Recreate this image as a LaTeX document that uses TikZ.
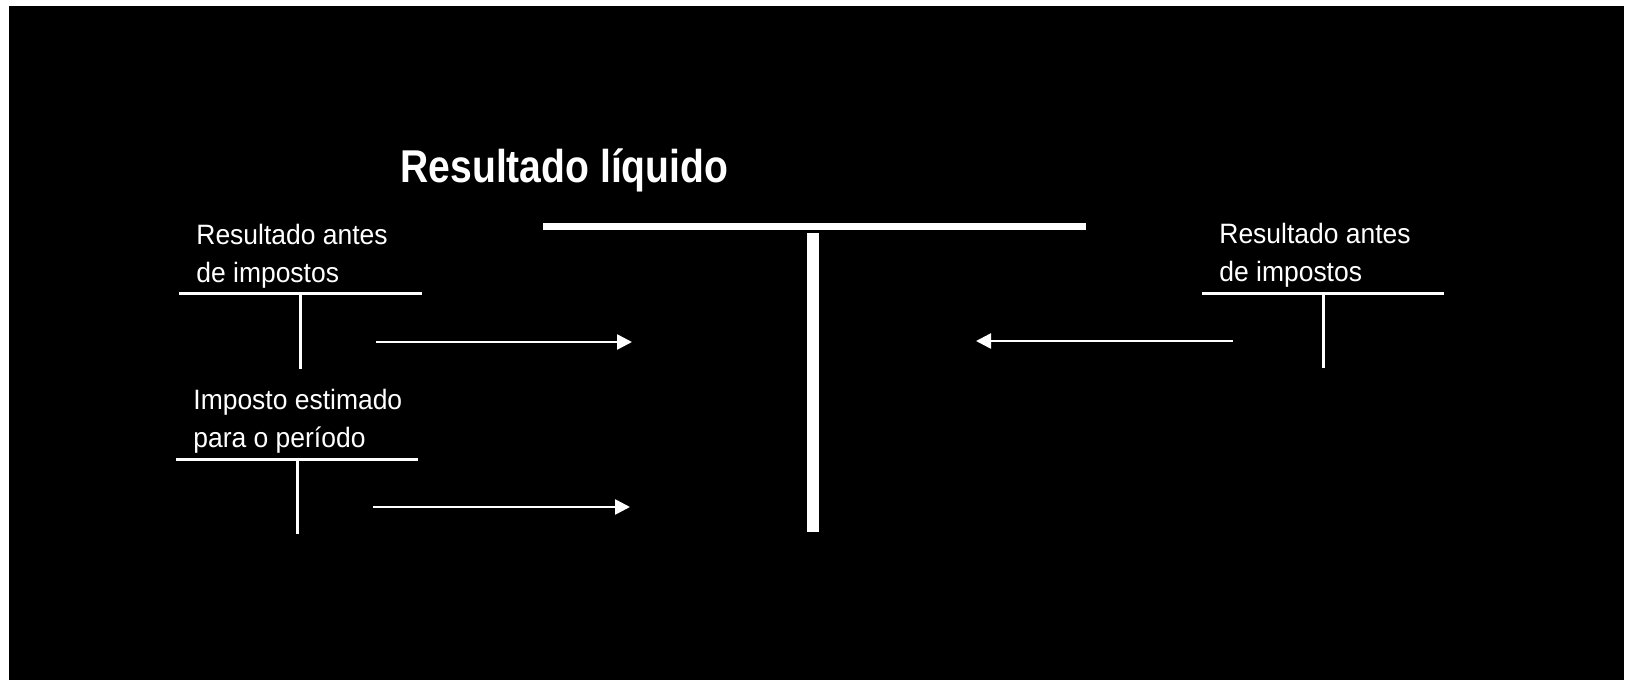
\documentclass[tikz,border=0pt]{standalone}
\usepackage{fontspec}
\setmainfont{Liberation Sans}
\newfontfamily\titulofont[FakeStretch=0.85]{Liberation Sans}
\newfontfamily\contafont[FakeStretch=0.945]{Liberation Sans}
\usetikzlibrary{arrows.meta}

\begin{document}
\begin{tikzpicture}[x=0.5pt, y=-0.5pt]

\tikzstyle{titulo}=[text=white, font=\titulofont\fontsize{23}{27}\selectfont\bfseries, inner sep=0pt, anchor=base west]
\tikzstyle{conta}=[text=white, font=\contafont\fontsize{14}{19}\selectfont, inner sep=0pt, align=left, anchor=south west]
\tikzstyle{traco}=[white, line width=1.5pt]
\tikzstyle{connect}=[-{Triangle[length=7.5pt, width=7.5pt]}, white, line width=1.3pt]

% fundo
\useasboundingbox (0,0) rectangle (1627,680);
\fill[white] (0,0) rectangle (1627,680);
\fill[black] (9,6) rectangle (1624,680);

% conta principal
\node[titulo] (rl) at (400,182) {Resultado líquido};
\coordinate (rlA) at (543,226);
\coordinate (rlB) at (1086,226);
\coordinate (rlC) at (813,233);
\coordinate (rlD) at (813,532);
\draw[white, line width=3.5pt] (rlA) -- (rlB);
\draw[white, line width=6pt] (rlC) -- (rlD);

% resultado antes de impostos (esquerda)
\node[conta] (rai) at (196,289) {Resultado antes\\de impostos};
\coordinate (raiA) at (179,293);
\coordinate (raiB) at (422,293);
\coordinate (raiC) at (300,293);
\coordinate (raiD) at (300,369);
\draw[traco] (raiA) -- (raiB);
\draw[traco] (raiC) -- (raiD);

% imposto estimado
\node[conta] (ie) at (193,454) {Imposto estimado\\para o período};
\coordinate (ieA) at (176,459);
\coordinate (ieB) at (418,459);
\coordinate (ieC) at (297,459);
\coordinate (ieD) at (297,534);
\draw[traco] (ieA) -- (ieB);
\draw[traco] (ieC) -- (ieD);

% resultado antes de impostos (direita)
\node[conta] (rad) at (1219,288) {Resultado antes\\de impostos};
\coordinate (radA) at (1202,293);
\coordinate (radB) at (1444,293);
\coordinate (radC) at (1323,293);
\coordinate (radD) at (1323,368);
\draw[traco] (radA) -- (radB);
\draw[traco] (radC) -- (radD);

% setas
\coordinate (s1a) at (376,342);
\coordinate (s1b) at (632,342);
\coordinate (s2a) at (373,507);
\coordinate (s2b) at (630,507);
\coordinate (s3a) at (1233,341);
\coordinate (s3b) at (976,341);

\path (s1a) [connect] edge (s1b);
\path (s2a) [connect] edge (s2b);
\path (s3a) [connect] edge (s3b);

\end{tikzpicture}
\end{document}
